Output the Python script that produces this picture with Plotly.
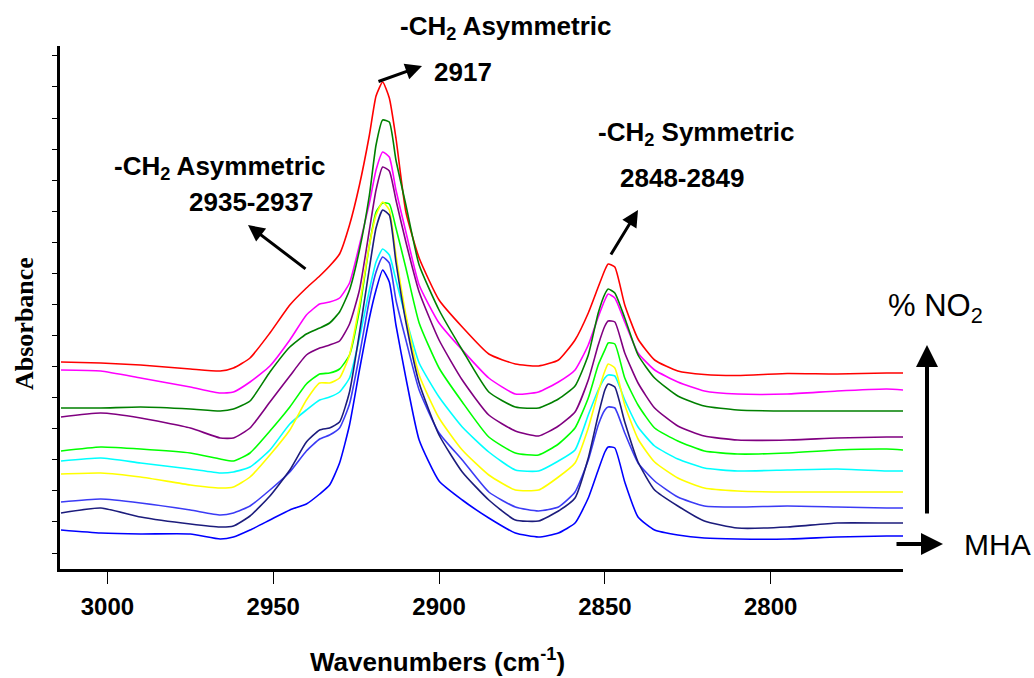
import plotly.graph_objects as go

# Wavenumber grid (cm-1)
wavenumbers = [3014, 3002, 2990, 2975, 2966, 2962, 2957, 2951, 2945, 2940,
               2936, 2933, 2930, 2927, 2924, 2921, 2919, 2917, 2915, 2913,
               2910, 2906, 2900, 2893, 2885, 2877, 2870, 2864, 2859, 2855,
               2852, 2850, 2849, 2847, 2844, 2840, 2835, 2828, 2820, 2810,
               2795, 2780, 2765, 2760]

# Absorbance (milli-absorbance, offset-stacked spectra as drawn)
red = [191, 190, 188, 184, 182, 185, 195, 220, 248, 265,
       277, 287, 299, 328, 368, 418, 457, 471, 455, 415,
       341, 295, 253, 226, 199, 189, 187, 193, 213, 240,
       266, 283, 289, 286, 248, 214, 193, 182, 178.5, 177.5,
       179.5, 179, 180, 180]
magenta = [183, 182, 175, 166, 160, 161, 171, 187, 213, 238,
           249, 251, 255, 270, 308, 350, 383, 401, 396, 363,
           321, 268, 230, 203, 175, 159, 161, 171, 183, 208,
           236, 253, 259, 255, 231, 200, 183, 171, 162, 159,
           159, 162, 164, 163]
green = [145, 145, 146, 144, 142, 144, 152, 181, 206, 219,
         225, 230, 241, 263, 303, 358, 408, 433, 431, 393,
         348, 288, 243, 203, 161, 146, 145, 154, 167, 198,
         240, 259, 264, 260, 235, 198, 175, 157, 147, 143,
         142, 142, 142, 142]
purple = [136, 140, 135, 125, 115, 115, 125, 151, 177, 198,
          205, 208, 212, 229, 263, 323, 363, 386, 382, 353,
          311, 261, 213, 173, 138, 122, 117, 127, 141, 173,
          208, 227, 232, 231, 200, 170, 145, 127, 117, 113,
          113, 115, 116, 116]
lime = [102, 106, 104, 100, 94, 92, 100, 122, 146, 169,
        179, 180, 184, 198, 243, 308, 341, 350, 349, 325,
        285, 230, 185, 151, 116, 100, 98, 109, 125, 155,
        188, 203, 210, 209, 175, 148, 125, 112, 102, 99,
        100, 103, 104, 103]
cyan = [92, 95, 90, 84, 80, 81, 86, 103, 129, 143,
        153, 156, 161, 175, 215, 263, 291, 304, 298, 273,
        235, 190, 156, 126, 101, 83, 82, 92, 103, 138,
        163, 175, 178, 177, 153, 126, 107, 94, 85, 82,
        83, 84, 82, 82]
yellow = [79, 80, 76, 68, 65, 66, 76, 98, 123, 153,
          170, 170, 175, 198, 248, 308, 338, 351, 343, 298,
          238, 178, 135, 103, 78, 63, 63, 76, 90, 125,
          161, 182, 189, 185, 148, 114, 91, 75, 65, 62,
          61, 61, 61, 61]
blue_mid = [51, 54, 50, 43, 38, 40, 47, 63, 81, 102,
            114, 118, 125, 149, 198, 253, 281, 296, 290, 253,
            213, 163, 120, 93, 61, 46, 42, 46, 61, 93,
            128, 143, 146, 145, 120, 90, 72, 56, 47, 46,
            47, 46, 45, 45]
navy = [40, 45, 36, 29, 26, 27, 37, 57, 83, 111,
        123, 125, 131, 161, 220, 285, 325, 343, 338, 291,
        231, 170, 118, 81, 53, 33, 32, 42, 55, 95,
        138, 163, 169, 166, 131, 91, 63, 47, 32, 25,
        26, 30, 30, 30]
blue_mha = [23, 20, 19, 19, 14, 16, 23, 33, 43, 49,
            59, 68, 90, 128, 183, 235, 263, 283, 271, 228,
            175, 113, 72, 53, 35, 20, 16, 20, 30, 55,
            83, 101, 106, 105, 71, 36, 23, 18, 15, 14,
            14, 16, 17, 17]

series = [
    ("red", red, "#ff0000"),
    ("magenta", magenta, "#ff00ff"),
    ("green", green, "#008000"),
    ("purple", purple, "#800080"),
    ("lime", lime, "#00ff00"),
    ("cyan", cyan, "#00ffff"),
    ("yellow", yellow, "#ffff00"),
    ("blue_mid", blue_mid, "#3b3bf5"),
    ("navy", navy, "#1c1c7c"),
    ("blue_mha", blue_mha, "#0000ff"),
]

tick_vals = [3000, 2950, 2900, 2850, 2800]
tick_text = ["3000", "2950", "2900", "2850", "2800"]

fig = go.Figure()
for name, vals, col in series:
    fig.add_trace(go.Scatter(x=wavenumbers, y=vals, mode="lines", name=name,
                             line=dict(color=col, width=1.6, shape="spline", smoothing=0.5),
                             showlegend=False, hoverinfo="skip"))

SANS = "Liberation Sans, Arial, sans-serif"

fig.update_layout(
    width=1034, height=678,
    margin=dict(l=60, r=131, t=46, b=109),
    paper_bgcolor="white", plot_bgcolor="white",
    showlegend=False,
)
fig.update_xaxes(
    range=[3014.3, 2760.1], tickvals=tick_vals, ticktext=tick_text,
    ticks="outside", ticklen=12, tickwidth=1, tickcolor="black",
    showline=True, linewidth=3, linecolor="black",
    showgrid=False, zeroline=False,
    tickfont=dict(family=SANS, size=24, color="black", weight="bold"),
    ticklabelstandoff=2,
)
fig.update_yaxes(
    range=[-16, 507], tick0=0, dtick=31.07,
    ticks="outside", ticklen=5, tickwidth=1, tickcolor="black",
    showticklabels=False,
    showline=True, linewidth=3, linecolor="black",
    showgrid=False, zeroline=False,
)

def px(xp):
    return (xp - 60) / 843.0

def py(yp):
    return (569 - yp) / 523.0

bold = dict(family=SANS, size=26, color="black")
texts = [
    ("<b>-CH<sub>2</sub> Asymmetric</b>", 506, 27, bold, 0),
    ("<b>2917</b>", 463, 72, bold, 0),
    ("<b>-CH<sub>2</sub> Asymmetric</b>", 219, 167, bold, 0),
    ("<b>2935-2937</b>", 251, 202, bold, 0),
    ("<b>-CH<sub>2</sub> Symmetric</b>", 696, 134, bold, 0),
    ("<b>2848-2849</b>", 682, 178, bold, 0),
    ("% NO<sub>2</sub>", 935, 308, dict(family=SANS, size=31, color="black"), 0),
    ("MHA", 997, 544, dict(family=SANS, size=30, color="black"), 0),
    ("<b>Wavenumbers (cm<sup>-1</sup>)</b>", 437, 660, bold, 0),
    ("<b>Absorbance</b>", 25, 324, dict(family="Liberation Serif, Times New Roman, serif", size=26, color="black"), -90),
]
for t, xx, yy, f, ang in texts:
    fig.add_annotation(text=t, xref="paper", yref="paper", x=px(xx), y=py(yy),
                       xanchor="center", yanchor="middle", showarrow=False,
                       font=f, textangle=ang)

arrows = [
    (422, 66, -45, 16, 3),
    (248, 225, 59, 45, 3),
    (638, 210, -28, 46, 3),
    (927, 345, 0, 170, 4),
    (943, 544, -48, 0, 4),
]
for hx, hy, ax, ay, w in arrows:
    fig.add_annotation(text="", xref="paper", yref="paper", x=px(hx), y=py(hy),
                       ax=ax, ay=ay, showarrow=True, arrowhead=2, arrowsize=1.1,
                       arrowwidth=w, arrowcolor="black")

fig.write_html("out.html", config={"displayModeBar": False},
               post_script="document.body.style.margin='0';")
